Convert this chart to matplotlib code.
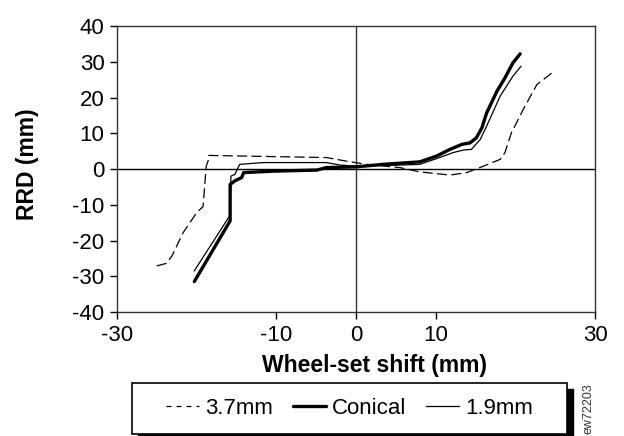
import matplotlib
matplotlib.use("Agg")
import matplotlib.pyplot as plt
from matplotlib.patches import Rectangle
from matplotlib.lines import Line2D

plt.rcParams['font.family'] = ['Liberation Sans', 'DejaVu Sans']

# 3.7mm profile (dashed)
x_37 = [-25.0, -23.8, -23.1, -21.7, -20.0, -19.2, -18.8, -18.5, -18.5, -3.7, -1.2, 1.3, 5.5, 8.0, 11.8, 13.9, 16.0, 18.1, 18.7, 19.5, 21.0, 22.7, 24.6]
y_37 = [-27.1, -26.4, -24.3, -17.8, -12.2, -10.5, 0.8, 2.7, 3.8, 3.2, 2.2, 1.3, 0.4, -0.8, -1.7, -1.0, 0.8, 2.7, 4.6, 10.1, 16.7, 23.6, 26.9]

# Conical profile (thick)
x_con = [-20.3, -15.8, -15.8, -15.2, -14.35, -14.1, -10.4, -4.9, -3.7, 0.0, 3.4, 8.0, 10.1, 11.8, 13.3, 14.3, 15.1, 15.8, 16.4, 17.7, 18.7, 19.7, 20.6]
y_con = [-31.5, -14.5, -4.3, -3.3, -2.4, -1.0, -0.6, -0.3, 0.4, 0.6, 1.3, 2.0, 3.6, 5.5, 6.9, 7.3, 8.7, 11.5, 15.7, 21.8, 25.5, 29.7, 32.2]

# 1.9mm profile (thin)
x_19 = [-20.3, -15.8, -15.7, -15.2, -14.6, -11.6, -3.7, -2.0, 0.0, 5.5, 8.0, 10.1, 12.2, 13.5, 14.5, 15.6, 16.4, 18.1, 19.7, 20.7]
y_19 = [-28.5, -12.9, -2.0, -1.5, 1.3, 1.8, 1.8, 1.1, 0.8, 1.1, 1.3, 2.9, 4.6, 5.3, 5.5, 8.3, 12.0, 20.4, 26.0, 28.7]

labels = ['3.7mm', 'Conical', '1.9mm']
x_ticks = [-30, -10, 0, 10, 30]
y_ticks = [40, 30, 20, 10, 0, -10, -20, -30, -40]

W, H = 624, 436
fig = plt.figure(figsize=(W/100, H/100), dpi=100)
ax = fig.add_axes([117/W, 1-312/H, (595-117)/W, (312-26)/H])

ax.axhline(0, color='black', lw=1.0, zorder=1)
ax.axvline(0, color='#333333', lw=1.0, zorder=1)

l1, = ax.plot(x_37, y_37, color='black', lw=0.9, linestyle=(0, (8, 3.5)), zorder=3)
l2, = ax.plot(x_con, y_con, color='black', lw=2.4, zorder=4, solid_capstyle='round')
l3, = ax.plot(x_19, y_19, color='black', lw=0.9, zorder=3)

ax.set_xlim(-30, 30)
ax.set_ylim(-40, 40)
ax.set_xticks(x_ticks)
ax.set_yticks(y_ticks)
ax.set_xticklabels([str(t) for t in x_ticks])
ax.set_yticklabels([str(t) for t in y_ticks])
ax.tick_params(direction='out', length=5, width=1, labelsize=16, pad=4, colors='black')
for s in ax.spines.values():
    s.set_color('#333333')
    s.set_linewidth(1.0)

ax.set_xlabel('Wheel-set shift (mm)', fontsize=16.5, fontweight='bold', labelpad=6)
ax.xaxis.label.set_x((375-117)/(595-117))
ax.set_ylabel('RRD (mm)', fontsize=16.5, fontweight='bold', labelpad=24)
ax.yaxis.label.set_y((312-164)/(312-26))

# legend box with solid black drop shadow
bx0, by0, bx1, by1 = 132, 383, 567, 434
fig.patches.append(Rectangle(((bx0+6)/W, 1-(by1+6)/H), (bx1-bx0)/W, (by1-by0)/H,
                             transform=fig.transFigure, facecolor='black', edgecolor='black', zorder=3))
fig.patches.append(Rectangle((bx0/W, 1-by1/H), (bx1-bx0)/W, (by1-by0)/H,
                             transform=fig.transFigure, facecolor='white', edgecolor='black',
                             linewidth=1.2, zorder=4))

h1 = Line2D([], [], color='black', lw=0.9, linestyle=(0, (4, 4)))
leg = fig.legend([h1, l2, l3], labels, loc='center', bbox_to_anchor=((bx0+bx1)/2/W, 1-(by0+by1)/2/H),
                 ncol=3, frameon=False, fontsize=16,
                 handlelength=1.5, handletextpad=0.25, columnspacing=0.9, borderpad=0.2)
leg.set_zorder(5)

fig.text(588/W, 1-383/H, 'ew72203', rotation=90, fontsize=9, color='#333333',
         ha='center', va='top')

fig.savefig('out.png', dpi=100)
